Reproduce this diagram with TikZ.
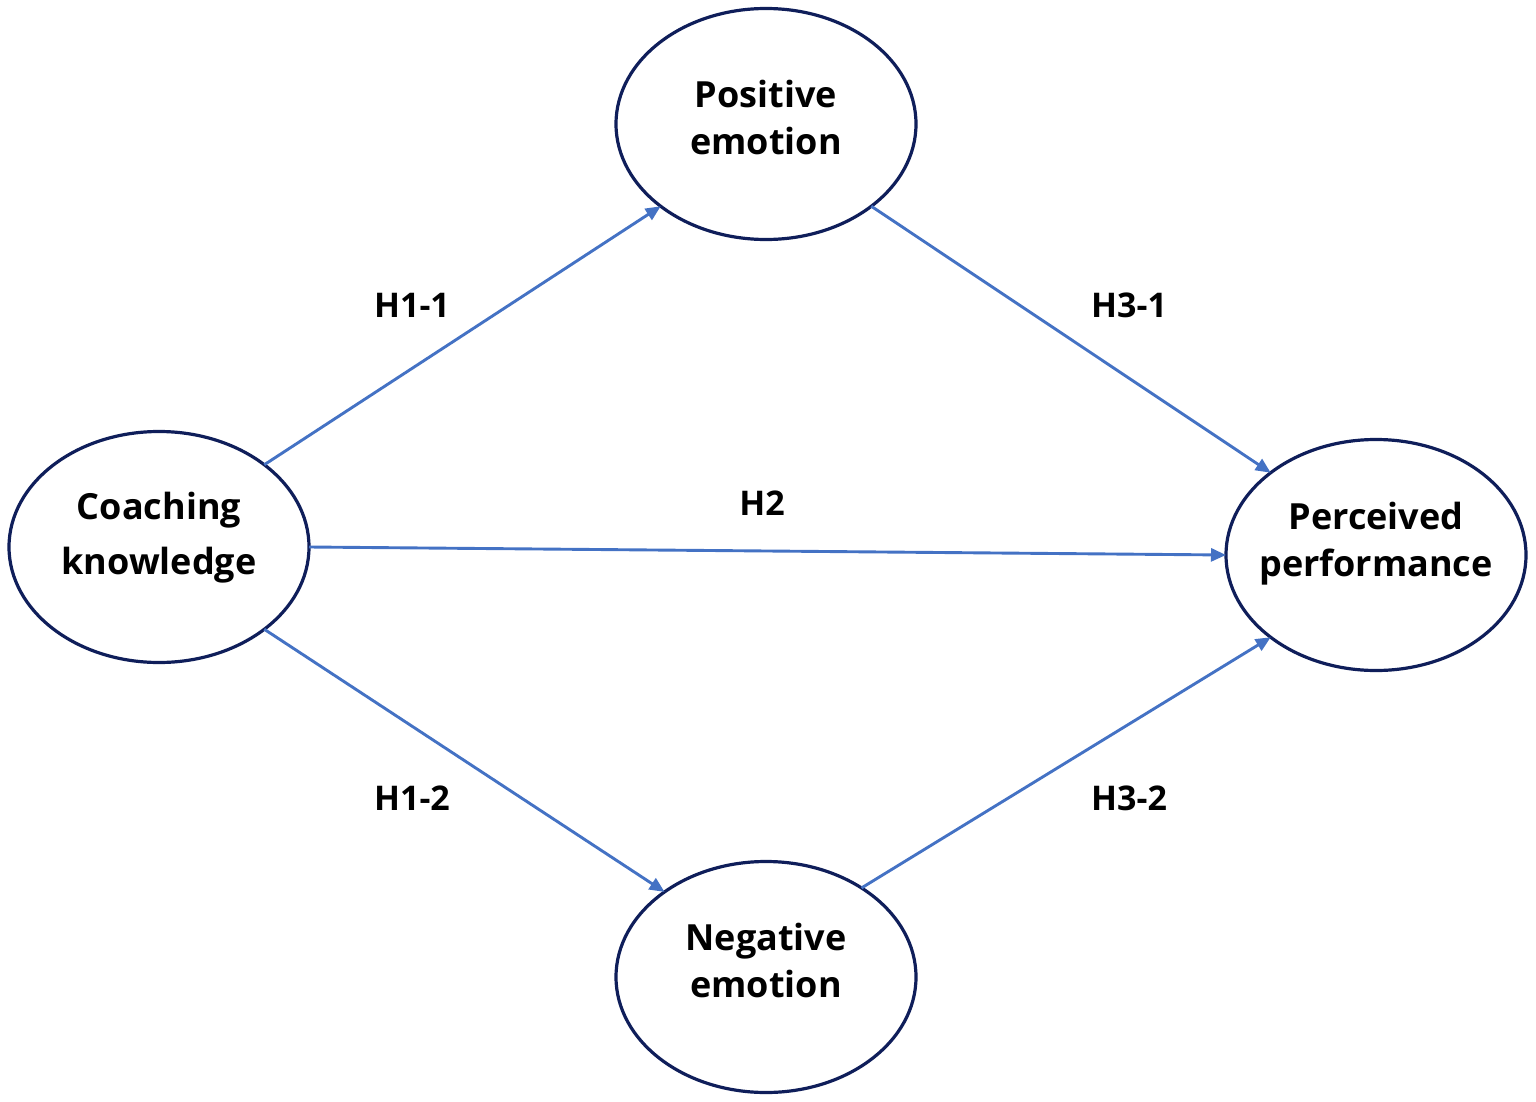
\documentclass[tikz,border=0pt]{standalone}
\usepackage{fontspec}
\setmainfont{Open Sans}
\usetikzlibrary{shapes.geometric,arrows.meta}
\definecolor{navy}{HTML}{0F1E5A}
\definecolor{arrowblue}{HTML}{4472C4}
% #1 height of first baseline above the centre, #2 line spacing, #3 first line, #4 second line
\newcommand{\twolines}[4]{\makebox[0pt]{\raisebox{#1}[0pt][0pt]{\fontsize{36}{#2}\selectfont\bfseries\begin{tabular}[t]{@{}c@{}}#3\\#4\end{tabular}}}}
\begin{document}
\begin{tikzpicture}[x=1pt,y=-1pt,
  var/.style={ellipse,draw=navy,line width=3.2pt,minimum width=300pt,minimum height=231pt,inner sep=0pt,outer sep=0pt},
  link/.style={draw=arrowblue,line width=2.9pt,-{Triangle[length=15pt,width=13pt]}},
  hyp/.style={font=\fontsize{34}{40}\selectfont\bfseries}]
\useasboundingbox (0,0) rectangle (1536,1102);
\node[var] (ck) at (159,547) {\twolines{28pt}{55}{Coaching}{knowledge}};
\node[var] (pe) at (766,124) {\twolines{16pt}{47}{Positive}{emotion}};
\node[var] (pp) at (1376,555) {\twolines{25.5pt}{47}{Perceived}{performance}};
\node[var] (ne) at (766,977) {\twolines{27pt}{47}{Negative}{emotion}};
\draw[link] (ck.38) -- (pe.218);
\draw[link] (pe.-38) -- (pp.142);
\draw[link] (ck.0) -- (pp.180);
\draw[link] (ck.-38) -- (ne.140);
\draw[link] (ne.43) -- (pp.218);
\node[hyp] (h11) at (412,305) {H1-1};
\node[hyp] (h31) at (1129,305) {H3-1};
\node[hyp] (h2) at (762,503) {H2};
\node[hyp] (h12) at (412,798) {H1-2};
\node[hyp] (h32) at (1129,798) {H3-2};
\end{tikzpicture}
\end{document}
